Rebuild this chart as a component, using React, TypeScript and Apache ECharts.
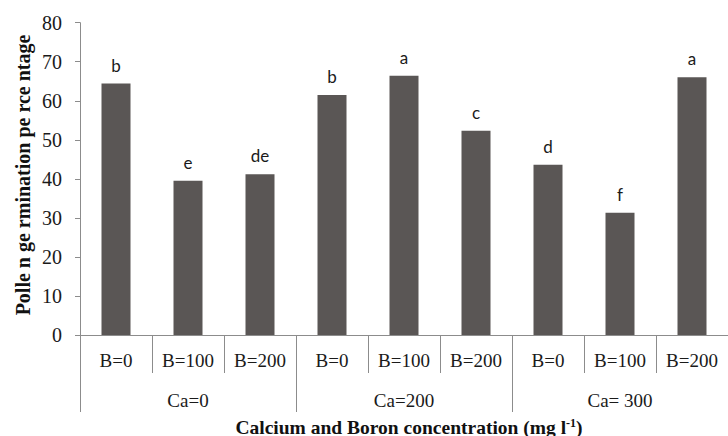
import React, { useEffect, useRef } from "react";
import * as echarts from "echarts";

const boronLabels = ["B=0", "B=100", "B=200", "B=0", "B=100", "B=200", "B=0", "B=100", "B=200"];
const calciumLabels = ["Ca=0", "Ca=200", "Ca= 300"];
const germination = [64.4, 39.5, 41.2, 61.5, 66.4, 52.3, 43.6, 31.3, 66.0];
const significance = ["b", "e", "de", "b", "a", "c", "d", "f", "a"];
const yTitle = "Polle n ge rmination pe rce ntage";
const xTitleMain = "Calcium and Boron concentration (mg l";
const xTitleSup = "-1";

export default function App() {
  const ref = useRef<HTMLDivElement>(null);
  useEffect(() => {
    if (!ref.current) return;
    const chart = echarts.init(ref.current, null, { renderer: "svg" });
    const serif = "Liberation Serif";
    const axisGray = "#8c8c8c";
    chart.setOption({
      animation: false,
      backgroundColor: "#ffffff",
      grid: { left: 80, right: -9, top: 22.7, bottom: 101, containLabel: false },
      xAxis: [
        {
          type: "category",
          data: boronLabels,
          position: "bottom",
          axisLine: { show: true, lineStyle: { color: axisGray, width: 1 } },
          axisTick: { show: true, interval: 0, length: 38, lineStyle: { color: axisGray } },
          axisLabel: {
            interval: 0,
            margin: 16,
            fontFamily: serif,
            fontSize: 19,
            color: "#1a1a1a",
          },
        },
        {
          type: "category",
          data: calciumLabels,
          position: "bottom",
          axisLine: { show: false },
          axisTick: { show: true, interval: 0, length: 77, lineStyle: { color: axisGray } },
          axisLabel: {
            interval: 0,
            margin: 56,
            fontFamily: serif,
            fontSize: 19,
            color: "#1a1a1a",
          },
        },
      ],
      yAxis: {
        type: "value",
        min: 0,
        max: 80,
        interval: 10,
        splitLine: { show: false },
        axisLine: { show: true, lineStyle: { color: axisGray } },
        axisTick: { show: true, length: 5, lineStyle: { color: axisGray } },
        axisLabel: { margin: 18, fontFamily: serif, fontSize: 20, color: "#1a1a1a" },
      },
      series: [
        {
          type: "bar",
          xAxisIndex: 0,
          data: germination,
          barWidth: 29,
          itemStyle: { color: "#5a5655" },
          label: {
            show: true,
            position: "top",
            distance: 10,
            fontFamily: "Lato",
            fontSize: 17,
            color: "#1a1a1a",
            formatter: (p: any) => significance[p.dataIndex],
          },
        },
      ],
      graphic: [
        {
          type: "text",
          x: 23,
          y: 175,
          rotation: Math.PI / 2,
          style: {
            text: yTitle,
            fontFamily: serif,
            fontWeight: "bold",
            fontSize: 20,
            fill: "#111",
            align: "center",
            verticalAlign: "middle",
          },
        },
        {
          type: "text",
          x: 409,
          y: 427,
          style: {
            text: "{m|" + xTitleMain + "}{s|" + xTitleSup + "}{m|)}",
            align: "center",
            verticalAlign: "middle",
            rich: {
              m: { fontFamily: serif, fontWeight: "bold", fontSize: 19.5, fill: "#111" },
              s: {
                fontFamily: serif,
                fontWeight: "bold",
                fontSize: 12,
                fill: "#111",
                verticalAlign: "top",
                padding: [0, 0, 9, 0],
              },
            },
          },
        },
      ],
    });
    return () => chart.dispose();
  }, []);
  return <div ref={ref} style={{ width: 728, height: 436, position: "absolute", left: 0, top: 0 }} />;
}
